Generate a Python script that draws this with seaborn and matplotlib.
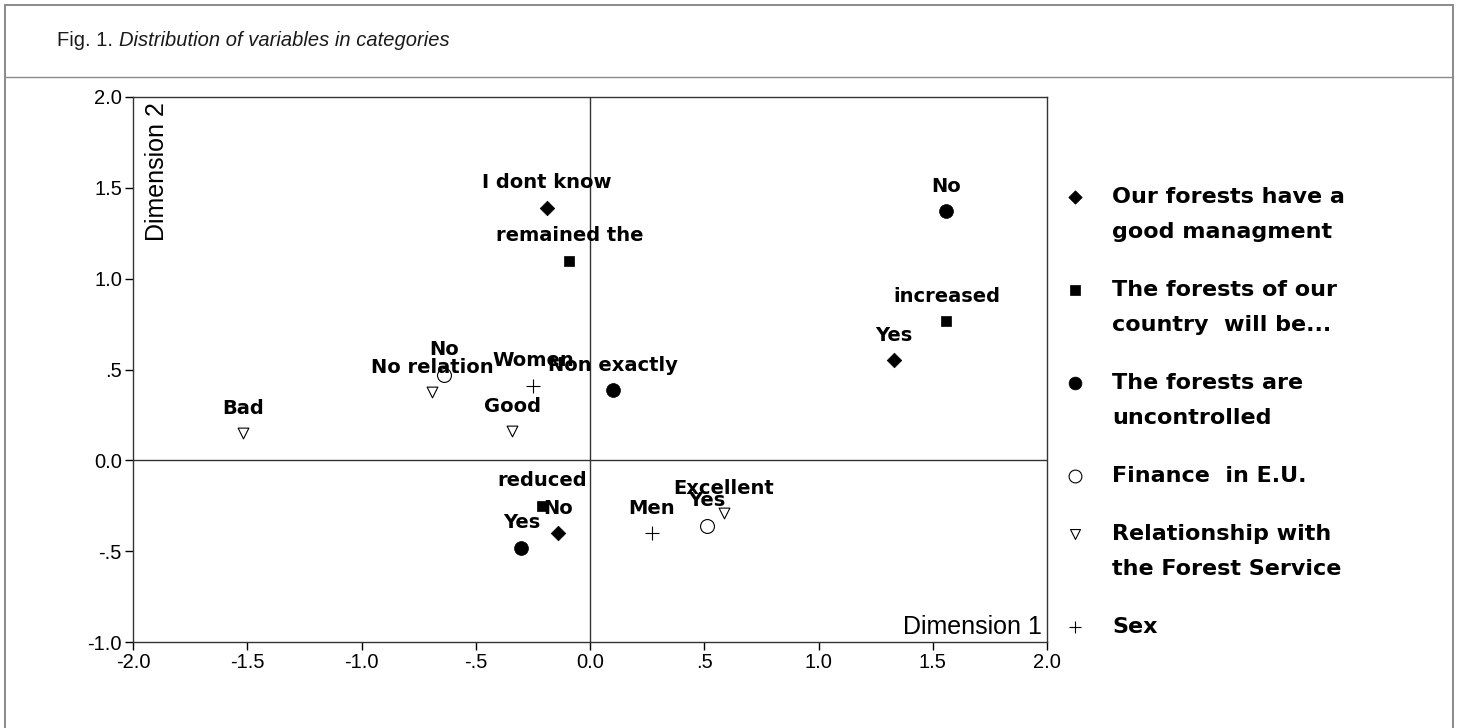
"""
Correspondence map: distribution of variables in categories (Fig. 1).
"""

import matplotlib
matplotlib.use("Agg")
import matplotlib.pyplot as plt
import pandas as pd
import seaborn as sns

# --- data ---------------------------------------------------------------
group_names = [
    "Our forests have a\ngood managment",
    "The forests of our\ncountry  will be...",
    "The forests are\nuncontrolled",
    "Finance  in E.U.",
    "Relationship with\nthe Forest Service",
    "Sex",
]
point_group = [0, 0, 0,
               1, 1, 1,
               2, 2, 2,
               3, 3,
               4, 4, 4, 4,
               5, 5]
point_label = ["I dont know", "Yes", "No",
               "remained the", "increased", "reduced",
               "No", "Non exactly", "Yes",
               "No", "Yes",
               "No relation", "Bad", "Good", "Excellent",
               "Women", "Men"]
dim1 = [-0.19, 1.33, -0.14,
        -0.09, 1.56, -0.21,
        1.56, 0.10, -0.30,
        -0.64, 0.51,
        -0.69, -1.52, -0.34, 0.585,
        -0.25, 0.27]
dim2 = [1.39, 0.55, -0.40,
        1.10, 0.765, -0.25,
        1.37, 0.385, -0.48,
        0.47, -0.36,
        0.375, 0.15, 0.16, -0.29,
        0.41, -0.40]

x_ticks = [-2.0, -1.5, -1.0, -0.5, 0.0, 0.5, 1.0, 1.5, 2.0]
x_tick_labels = ["-2.0", "-1.5", "-1.0", "-.5", "0.0", ".5", "1.0", "1.5", "2.0"]
y_ticks = [-1.0, -0.5, 0.0, 0.5, 1.0, 1.5, 2.0]
y_tick_labels = ["-1.0", "-.5", "0.0", ".5", "1.0", "1.5", "2.0"]

# marker style per group: (marker, size, facecolor, linewidth)
group_style = [
    ("D", 55, "black", 0.5),
    ("s", 60, "black", 0.5),
    ("o", 100, "black", 0.5),
    ("o", 100, "white", 0.8),
    ("v", 60, "white", 0.8),
    ("+", 100, "black", 0.8),
]

df = pd.DataFrame({
    "group": [group_names[g] for g in point_group],
    "label": point_label,
    "dim1": dim1,
    "dim2": dim2,
})

sns.set_style("white")
plt.rcParams["font.family"] = ["Liberation Sans", "DejaVu Sans"]

fig = plt.figure(figsize=(14.6, 7.28), dpi=100)
ax = fig.add_axes([133 / 1460, 1 - 642 / 728, 914 / 1460, 545 / 728])

# reference lines through the origin
ax.axhline(0, color="#333333", lw=1.0, zorder=1)
ax.axvline(0, color="#333333", lw=1.0, zorder=1)

for gi, name in enumerate(group_names):
    marker, size, face, lw = group_style[gi]
    sub = df[df["group"] == name]
    if marker == "+":
        sns.scatterplot(data=sub, x="dim1", y="dim2", ax=ax, marker=marker,
                        s=size, color="black", linewidth=lw, zorder=3)
    else:
        sns.scatterplot(data=sub, x="dim1", y="dim2", ax=ax, marker=marker,
                        s=size, facecolor=face, edgecolor="black",
                        linewidth=lw, zorder=3)

for _, row in df.iterrows():
    ax.annotate(row["label"], (row["dim1"], row["dim2"]), xytext=(0, 25),
                textcoords="offset pixels", ha="center", va="center",
                fontsize=14, fontweight="bold", family="DejaVu Sans",
                color="black", zorder=4)

ax.set_xlim(-2.0, 2.0)
ax.set_ylim(-1.0, 2.0)
ax.set_xticks(x_ticks)
ax.set_xticklabels(x_tick_labels)
ax.set_yticks(y_ticks)
ax.set_yticklabels(y_tick_labels)
ax.tick_params(direction="out", length=6, width=1, color="black",
               labelsize=14.5, pad=2, left=True, bottom=True,
               labelcolor="black")
ax.set_xlabel("")
ax.set_ylabel("")
for sp in ax.spines.values():
    sp.set_color("#333333")
    sp.set_linewidth(1.0)

ax.text(0.013, 0.99, "Dimension 2", transform=ax.transAxes, rotation=90,
        ha="left", va="top", fontsize=18, color="black")
ax.text(0.994, 0.006, "Dimension 1", transform=ax.transAxes,
        ha="right", va="bottom", fontsize=18, color="black")

# page-level overlay in pixel coordinates: frame, title, legend
lax = fig.add_axes([0, 0, 1, 1], zorder=5)
lax.set_xlim(0, 1460)
lax.set_ylim(728, 0)
lax.axis("off")

frame_col = "#8a8a8a"
lax.plot([5, 5], [5, 728], color=frame_col, lw=1.4)
lax.plot([1453, 1453], [5, 728], color=frame_col, lw=1.4)
lax.plot([5, 1453], [5, 5], color=frame_col, lw=1.4)
lax.plot([5, 1453], [77, 77], color=frame_col, lw=1.0)

t1 = lax.text(57, 40, "Fig. 1. ", ha="left", va="center", fontsize=14.5,
              color="#1a1a1a")
lax.annotate("Distribution of variables in categories", xy=(1, 0),
             xycoords=t1, ha="left", va="bottom", fontsize=14.5,
             style="italic", color="#1a1a1a")

# legend
y = 197
for gi, name in enumerate(group_names):
    marker, size, face, lw = group_style[gi]
    lsize = size * 0.85
    if marker == "+":
        lax.scatter([1075], [y], marker=marker, s=lsize, color="black",
                    linewidth=lw)
    else:
        lax.scatter([1075], [y], marker=marker, s=lsize, facecolor=face,
                    edgecolor="black", linewidth=lw)
    lines = name.split("\n")
    for li, line in enumerate(lines):
        lax.text(1112, y + li * 35, line, ha="left", va="center",
                 fontsize=16, fontweight="bold", family="DejaVu Sans",
                 color="black")
    y += (len(lines) - 1) * 35 + 58

fig.savefig("out.png", dpi=100)
